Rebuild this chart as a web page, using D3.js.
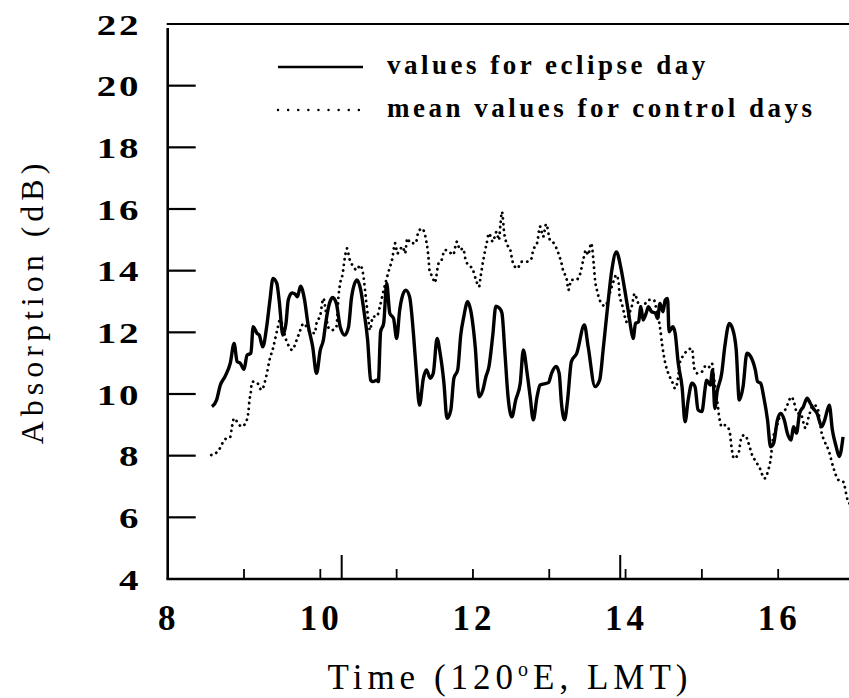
<!DOCTYPE html>
<html>
<head>
<meta charset="utf-8">
<script src="https://cdn.jsdelivr.net/npm/d3@7"></script>
<style>
	body { margin: 0; background: #fff; }
	svg { display: block; }
	text { font-family: "Liberation Serif", "Times New Roman", serif; fill: #000; }
</style>
</head>
<body>
<svg id="chart" width="849" height="698"></svg>
<script>
// eclipse day absorption [hour LMT, dB]
var eclipseDay = [[8.58,9.59],[8.64,9.80],[8.69,10.29],[8.75,10.56],[8.82,11.0],[8.87,11.64],[8.91,11.05],[8.95,11.0],[9.0,10.8],[9.04,11.26],[9.09,11.32],[9.12,12.18],[9.17,11.97],[9.20,11.91],[9.245,11.53],[9.30,12.24],[9.34,13.05],[9.38,13.75],[9.43,13.59],[9.46,13.05],[9.51,11.91],[9.55,12.29],[9.58,13.05],[9.63,13.28],[9.67,13.24],[9.70,13.15],[9.74,13.50],[9.79,13.10],[9.84,12.24],[9.90,11.53],[9.95,10.67],[10.0,11.43],[10.04,11.75],[10.07,12.29],[10.12,12.94],[10.16,13.13],[10.21,12.94],[10.26,12.18],[10.32,11.91],[10.37,12.18],[10.41,13.15],[10.48,13.70],[10.53,13.37],[10.57,12.72],[10.62,11.75],[10.66,10.45],[10.69,10.40],[10.74,10.45],[10.76,10.40],[10.79,12.02],[10.83,12.29],[10.87,13.59],[10.91,12.62],[10.96,12.45],[11.0,11.80],[11.04,12.72],[11.08,13.21],[11.12,13.37],[11.17,13.15],[11.22,11.97],[11.26,10.67],[11.30,9.64],[11.35,10.51],[11.39,10.78],[11.44,10.51],[11.48,10.67],[11.53,11.80],[11.57,11.32],[11.62,10.35],[11.66,9.21],[11.71,9.48],[11.75,10.51],[11.80,10.78],[11.84,11.91],[11.88,12.51],[11.93,12.99],[11.97,12.72],[12.03,11.53],[12.08,9.91],[12.13,10.13],[12.17,10.56],[12.21,10.89],[12.26,11.91],[12.30,12.85],[12.35,12.78],[12.38,12.62],[12.42,11.3],[12.46,9.91],[12.51,9.26],[12.56,9.80],[12.62,10.35],[12.66,11.43],[12.71,10.67],[12.75,9.91],[12.79,9.16],[12.84,9.91],[12.88,10.29],[12.99,10.37],[13.03,10.67],[13.09,10.89],[13.13,10.67],[13.16,9.70],[13.20,9.16],[13.24,9.80],[13.29,11.05],[13.36,11.32],[13.46,12.24],[13.51,11.53],[13.60,10.24],[13.66,10.45],[13.71,11.53],[13.76,12.72],[13.82,14.02],[13.88,14.61],[13.94,14.07],[13.99,13.37],[14.04,12.62],[14.07,12.13],[14.10,11.80],[14.13,12.29],[14.17,12.34],[14.20,12.83],[14.23,12.40],[14.27,12.62],[14.30,12.83],[14.34,12.67],[14.39,12.62],[14.42,12.45],[14.45,12.94],[14.49,12.67],[14.52,13.05],[14.55,13.10],[14.57,12.02],[14.62,12.18],[14.65,11.97],[14.69,11.0],[14.74,10.24],[14.78,9.10],[14.82,9.80],[14.87,10.35],[14.91,10.24],[14.95,9.48],[15.0,9.43],[15.04,10.13],[15.06,10.45],[15.11,10.29],[15.14,10.78],[15.17,9.53],[15.20,10.07],[15.26,10.67],[15.30,11.53],[15.36,12.29],[15.40,12.13],[15.45,11.43],[15.49,9.80],[15.54,10.24],[15.59,11.32],[15.64,11.21],[15.70,10.78],[15.73,10.40],[15.77,10.35],[15.81,9.91],[15.86,9.16],[15.90,8.29],[15.94,8.40],[15.99,9.16],[16.03,9.37],[16.08,9.16],[16.12,8.73],[16.17,8.51],[16.20,8.94],[16.24,8.73],[16.28,9.37],[16.33,9.59],[16.38,9.86],[16.42,9.70],[16.46,9.53],[16.51,9.37],[16.57,8.94],[16.61,9.16],[16.67,9.64],[16.71,8.83],[16.76,8.29],[16.80,7.97],[16.85,8.61]];

// mean of control days [hour LMT, dB]
var controlDays = [[8.57,8.02],[8.63,8.08],[8.69,8.26],[8.74,8.51],[8.82,8.61],[8.84,8.91],[8.87,9.21],[8.93,9.02],[8.97,8.94],[9.04,9.18],[9.06,9.48],[9.07,9.77],[9.09,10.07],[9.10,10.37],[9.12,10.40],[9.17,10.37],[9.23,10.13],[9.29,10.56],[9.34,11.16],[9.38,11.48],[9.41,11.80],[9.44,12.13],[9.47,12.40],[9.56,11.70],[9.63,11.43],[9.69,11.75],[9.73,12.02],[9.78,12.29],[9.82,12.18],[9.86,12.02],[9.93,11.97],[9.95,12.29],[10.0,12.56],[10.04,13.10],[10.07,12.72],[10.10,12.18],[10.15,12.07],[10.21,12.18],[10.24,13.21],[10.26,13.59],[10.29,13.86],[10.32,14.40],[10.35,14.72],[10.38,14.40],[10.42,14.18],[10.48,14.02],[10.52,14.18],[10.56,13.9],[10.60,13.05],[10.63,12.40],[10.65,12.07],[10.69,12.51],[10.74,12.51],[10.78,12.83],[10.83,13.37],[10.87,13.75],[10.90,14.02],[10.94,14.35],[10.98,14.89],[11.01,14.56],[11.04,14.67],[11.08,14.78],[11.11,14.56],[11.14,15.05],[11.18,14.89],[11.25,14.89],[11.28,15.21],[11.33,15.37],[11.39,14.94],[11.42,14.35],[11.43,14.02],[11.47,13.80],[11.50,13.61],[11.55,14.24],[11.59,14.35],[11.63,14.67],[11.69,14.61],[11.74,14.51],[11.79,14.94],[11.83,14.67],[11.87,14.72],[11.91,14.29],[11.95,14.18],[12.0,14.02],[12.04,13.70],[12.08,13.48],[12.10,13.80],[12.14,14.40],[12.18,14.89],[12.21,15.21],[12.26,14.94],[12.31,15.26],[12.34,14.99],[12.36,15.48],[12.38,15.91],[12.41,15.21],[12.44,14.89],[12.49,14.67],[12.52,14.29],[12.58,14.07],[12.64,14.29],[12.70,14.29],[12.76,14.35],[12.79,14.67],[12.84,14.89],[12.88,15.43],[12.92,15.10],[12.96,15.51],[13.01,14.99],[13.06,14.89],[13.12,14.56],[13.16,14.24],[13.18,14.02],[13.23,13.70],[13.25,13.37],[13.29,13.70],[13.35,13.70],[13.40,13.86],[13.45,14.40],[13.48,14.67],[13.51,14.51],[13.55,14.89],[13.58,14.29],[13.60,13.70],[13.63,13.32],[13.66,13.05],[13.73,12.85],[13.80,13.32],[13.84,13.64],[13.88,13.86],[13.91,13.59],[13.92,13.21],[13.95,12.94],[13.98,12.62],[14.01,12.34],[14.04,12.56],[14.08,12.83],[14.12,13.26],[14.15,13.05],[14.19,12.83],[14.26,12.94],[14.30,13.05],[14.37,13.05],[14.41,12.67],[14.45,12.18],[14.48,11.59],[14.52,11.0],[14.56,10.67],[14.61,10.40],[14.65,10.18],[14.69,10.56],[14.71,11.0],[14.76,11.26],[14.82,11.43],[14.87,11.48],[14.90,10.83],[14.94,10.67],[15.0,10.72],[15.04,10.89],[15.08,10.83],[15.13,11.0],[15.17,10.29],[15.20,9.80],[15.23,9.21],[15.26,8.94],[15.30,8.99],[15.36,8.83],[15.39,8.24],[15.42,7.91],[15.48,8.08],[15.52,8.61],[15.56,8.67],[15.62,8.34],[15.65,8.08],[15.71,7.80],[15.76,7.59],[15.82,7.26],[15.87,7.53],[15.90,7.86],[15.93,8.51],[15.98,8.94],[16.02,9.26],[16.09,9.48],[16.13,9.70],[16.17,9.91],[16.20,9.80],[16.25,9.37],[16.29,9.37],[16.36,8.89],[16.40,9.26],[16.46,9.64],[16.51,9.59],[16.57,8.73],[16.61,8.45],[16.66,8.18],[16.72,7.64],[16.79,7.21],[16.85,7.16],[16.91,6.56],[16.95,6.4]];

var yLabels = [4, 6, 8, 10, 12, 14, 16, 18, 20, 22];
var yTicks = [6, 8, 10, 12, 14, 16, 18, 20];
var xLabels = [8, 10, 12, 14, 16];
var xTicks = [9, 10, 11, 12, 13, 14, 15, 16];
// eclipse start / end markers on the time axis
var eclipseMarks = [10.28, 13.93];
var legendItems = ["values for eclipse day", "mean values for control days"];

var svg = d3.select("#chart");

var x = d3.scaleLinear().domain([8, 17]).range([167.7, 854.5]);
var y = d3.scaleLinear().domain([4, 22]).range([579, 24]);

var line = d3.line()
	.x(function(d) { return x(d[0]); })
	.y(function(d) { return y(d[1]); })
	.curve(d3.curveMonotoneX);

//frame: top line, left axis, bottom axis
svg.append("line")
	.attr("x1", x(8) - 1).attr("x2", 849)
	.attr("y1", y(22)).attr("y2", y(22))
	.attr("stroke", "#000").attr("stroke-width", 2.2);
svg.append("line")
	.attr("x1", x(8)).attr("x2", x(8))
	.attr("y1", y(22) + 4).attr("y2", y(4))
	.attr("stroke", "#000").attr("stroke-width", 2.6);
svg.append("line")
	.attr("x1", x(8) - 1.3).attr("x2", 849)
	.attr("y1", y(4)).attr("y2", y(4))
	.attr("stroke", "#000").attr("stroke-width", 2.6);

//inward ticks
svg.selectAll(".ytick").data(yTicks).enter()
	.append("line")
		.attr("class", "ytick")
		.attr("x1", x(8)).attr("x2", x(8) + 28)
		.attr("y1", function(d) { return y(d); })
		.attr("y2", function(d) { return y(d); })
		.attr("stroke", "#000").attr("stroke-width", 2.2);
svg.selectAll(".xtick").data(xTicks).enter()
	.append("line")
		.attr("class", "xtick")
		.attr("x1", function(d) { return x(d); })
		.attr("x2", function(d) { return x(d); })
		.attr("y1", y(4)).attr("y2", y(4) - 10)
		.attr("stroke", "#000").attr("stroke-width", 1.8);
svg.selectAll(".emark").data(eclipseMarks).enter()
	.append("line")
		.attr("class", "emark")
		.attr("x1", function(d) { return x(d); })
		.attr("x2", function(d) { return x(d); })
		.attr("y1", y(4)).attr("y2", y(4) - 24)
		.attr("stroke", "#000").attr("stroke-width", 2);

//tick labels (y digits are printed wide in the original)
svg.selectAll(".ylab").data(yLabels).enter()
	.append("text")
		.attr("class", "ylab")
		.attr("transform", function(d) { return "translate(141," + y(d) + ") scale(1.3,1)"; })
		.attr("dy", "0.35em")
		.attr("text-anchor", "end")
		.style("font-size", "30px")
		.style("font-weight", "bold")
		.style("letter-spacing", "2px")
		.text(function(d) { return d; });
svg.selectAll(".xlab").data(xLabels).enter()
	.append("text")
		.attr("class", "xlab")
		.attr("x", function(d) { return x(d) + 1; })
		.attr("y", 630)
		.attr("text-anchor", "middle")
		.style("font-size", "35px")
		.style("font-weight", "bold")
		.style("letter-spacing", "4px")
		.text(function(d) { return d; });

//axis titles
var xt = svg.append("text")
	.attr("x", 510).attr("y", 689)
	.attr("text-anchor", "middle")
	.style("font-size", "35px")
	.style("letter-spacing", "5px");
xt.append("tspan").text("Time (120");
xt.append("tspan").attr("dy", -13).style("font-size", "20px").text("o");
xt.append("tspan").attr("dy", 13).text("E, LMT)");

svg.append("text")
	.attr("transform", "translate(43," + ((y(4) + y(22)) / 2) + ") rotate(-90)")
	.attr("text-anchor", "middle")
	.style("font-size", "32px")
	.style("letter-spacing", "5px")
	.text("Absorption (dB)");

//data
svg.append("path")
	.datum(controlDays)
	.attr("d", line)
	.attr("fill", "none")
	.attr("stroke", "#000")
	.attr("stroke-width", 2.8)
	.attr("stroke-linecap", "round")
	.attr("stroke-dasharray", "0.1 5.5");
svg.append("path")
	.datum(eclipseDay)
	.attr("d", line)
	.attr("fill", "none")
	.attr("stroke", "#000")
	.attr("stroke-width", 3.4)
	.attr("stroke-linejoin", "round");

//legend
var legend = svg.selectAll(".legend").data(legendItems).enter()
	.append("g")
		.attr("class", "legend")
		.attr("transform", function(d, i) { return "translate(278," + (67 + i * 43) + ")"; });
legend.append("line")
	.attr("x1", 0).attr("x2", function(d, i) { return i == 0 ? 85 : 82; })
	.attr("y1", 0).attr("y2", 0)
	.attr("stroke", "#000")
	.attr("stroke-width", function(d, i) { return i == 0 ? 2.6 : 2.4; })
	.attr("stroke-linecap", function(d, i) { return i == 0 ? "butt" : "round"; })
	.attr("stroke-dasharray", function(d, i) { return i == 0 ? null : "0.1 10"; });
legend.append("text")
	.attr("x", 109).attr("y", 7)
	.style("font-size", "27px")
	.style("font-weight", "bold")
	.style("letter-spacing", "3.5px")
	.text(function(d) { return d; });
</script>
</body>
</html>
